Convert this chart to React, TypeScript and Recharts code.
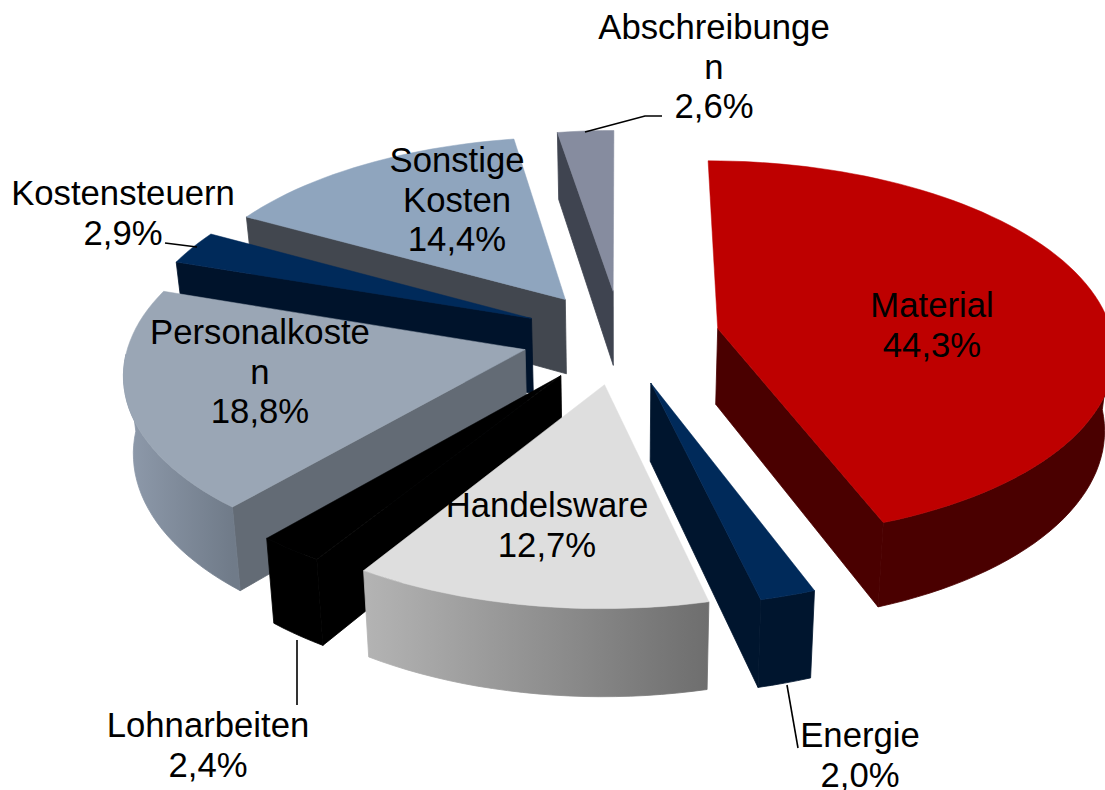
import { PieChart, Pie } from "recharts";

// listed back to front, running counter-clockwise from 12 o'clock, so the slices paint in the right order
const categories = ["Abschreibungen", "Sonstige Kosten", "Kostensteuern", "Personalkosten", "Lohnarbeiten", "Handelsware", "Energie", "Material"];
const shares = [2.6, 14.4, 2.9, 18.8, 2.4, 12.7, 2.0, 44.3];
const shareLabels = ["2,6%", "14,4%", "2,9%", "18,8%", "2,4%", "12,7%", "2,0%", "44,3%"];
const nameLines = [["Abschreibunge", "n"], ["Sonstige", "Kosten"], ["Kostensteuern"], ["Personalkoste", "n"], ["Lohnarbeiten"], ["Handelsware"], ["Energie"], ["Material"]];

const topColors = ["#868C9F", "#8FA5BE", "#002A5A", "#9AA6B5", "#000000", "#DEDEDE", "#002A5A", "#BE0000"];
const cutColors = ["#3F4450", "#42474F", "#00132B", "#636B75", "#000000", "#6E6E6E", "#00152E", "#4A0000"];
const rimFrom = ["#3F4450", "#42474F", "#00132B", "#8F9BAC", "#000000", "#B4B4B4", "#00152E", "#4A0000"];
const rimTo = ["#3F4450", "#42474F", "#00132B", "#707B89", "#000000", "#6E6E6E", "#00152E", "#4A0000"];

const labelCenters = [[714, 27], [457, 160], [123, 193], [260, 332], [208, 725], [547, 505], [860, 735], [932, 305]];
const leaders = [
  "585,132 645,116 662,116",
  "",
  "165,243 197,247",
  "",
  "297,640 297,705",
  "",
  "787,685 798,748",
  "",
];

const tableData = categories.map((name, i) => ({ name, value: shares[i], index: i }));

const CX = 621;
const CY = 337;
const RX = 395;
const RY = 188;
const TILT = 0.11;
const EXPLODE = 0.25;
const DEPTH = 76;
const FONT = "'Liberation Sans', Arial, sans-serif";

const rad = (d: number) => (d * Math.PI) / 180;

// ground plane -> screen, z = 0 on the top face, z = 1 on the bottom face
function project(gx: number, gy: number, z: number) {
  const s = 1 / (1 + TILT * gy);
  const x = CX + RX * gx * s;
  const y = CY - RY * gy * s;
  return [x - (x - CX) * 0.02 * z, y + DEPTH * s * z];
}

const pts = (list: number[][]) => list.map((p) => `${p[0].toFixed(1)},${p[1].toFixed(1)}`).join(" ");

function Slice3D(props: any) {
  const { startAngle, endAngle, midAngle, payload } = props;
  const i = payload.index;
  const m = midAngle ?? (startAngle + endAngle) / 2;
  const ax = EXPLODE * Math.cos(rad(m));
  const ay = EXPLODE * Math.sin(rad(m));
  const rim = (a: number, z: number) => project(ax + Math.cos(rad(a)), ay + Math.sin(rad(a)), z);
  const apex = project(ax, ay, 0);
  const apexLow = project(ax, ay, 1);

  const steps = Math.max(4, Math.ceil((endAngle - startAngle) / 2));
  const angles: number[] = [];
  for (let k = 0; k <= steps; k++) angles.push(startAngle + ((endAngle - startAngle) * k) / steps);

  const rimTop = angles.map((a) => rim(a, 0));
  const first = rimTop[0];
  const last = rimTop[rimTop.length - 1];
  const visibleAngles = angles.filter((a) => {
    const n = ((a % 360) + 360) % 360;
    return n >= 180 || n === 0;
  });
  const wallTop = visibleAngles.map((a) => rim(a, 0));
  const wallLow = visibleAngles.map((a) => rim(a, 1)).reverse();
  const xs = wallTop.map((p) => p[0]);
  const gradId = `rim-${i}`;

  return (
    <g>
      {wallTop.length > 1 && (
        <defs>
          <linearGradient id={gradId} gradientUnits="userSpaceOnUse" x1={Math.min(...xs)} x2={Math.max(...xs)} y1={0} y2={0}>
            <stop offset="0%" stopColor={rimFrom[i]} />
            <stop offset="100%" stopColor={rimTo[i]} />
          </linearGradient>
        </defs>
      )}
      {first[0] - apex[0] > 12 && (
        <polygon points={pts([apex, first, rim(startAngle, 1), apexLow])} fill={cutColors[i]} stroke={cutColors[i]} strokeWidth={0.8} />
      )}
      {apex[0] - last[0] > 12 && (
        <polygon points={pts([last, apex, apexLow, rim(endAngle, 1)])} fill={cutColors[i]} stroke={cutColors[i]} strokeWidth={0.8} />
      )}
      {wallTop.length > 1 && <polygon points={pts([...wallTop, ...wallLow])} fill={`url(#${gradId})`} stroke={`url(#${gradId})`} strokeWidth={0.8} />}
      <polygon points={pts([apex, ...rimTop])} fill={topColors[i]} stroke={topColors[i]} strokeWidth={0.5} />
    </g>
  );
}

function SliceLabel(props: any) {
  const i = props.payload?.index ?? props.index;
  const [x, y] = labelCenters[i];
  const lines = [...nameLines[i], shareLabels[i]];
  return (
    <g>
      {leaders[i] && <polyline points={leaders[i]} fill="none" stroke="#000" strokeWidth={1.6} />}
      <text x={x} y={y} textAnchor="middle" fontFamily={FONT} fontSize={34.7} fill="#000">
        {lines.map((line, k) => (
          <tspan key={k} x={x} y={y + k * 39.7} dy={12}>{line}</tspan>
        ))}
      </text>
    </g>
  );
}

export default function App() {
  return (
    <div style={{ position: "absolute", left: 0, top: 0, width: 1105, height: 790, overflow: "hidden", background: "#fff" }}>
      <PieChart width={1105} height={790} margin={{ top: 0, right: 0, bottom: 0, left: 0 }}>
        <Pie
          data={tableData}
          dataKey="value"
          nameKey="name"
          cx={CX}
          cy={CY}
          outerRadius={RX}
          startAngle={90}
          endAngle={450}
          paddingAngle={0}
          stroke="none"
          isAnimationActive={false}
          shape={Slice3D}
          inactiveShape={Slice3D}
          activeShape={Slice3D}
          label={SliceLabel}
          labelLine={false}
        />
      </PieChart>
    </div>
  );
}
